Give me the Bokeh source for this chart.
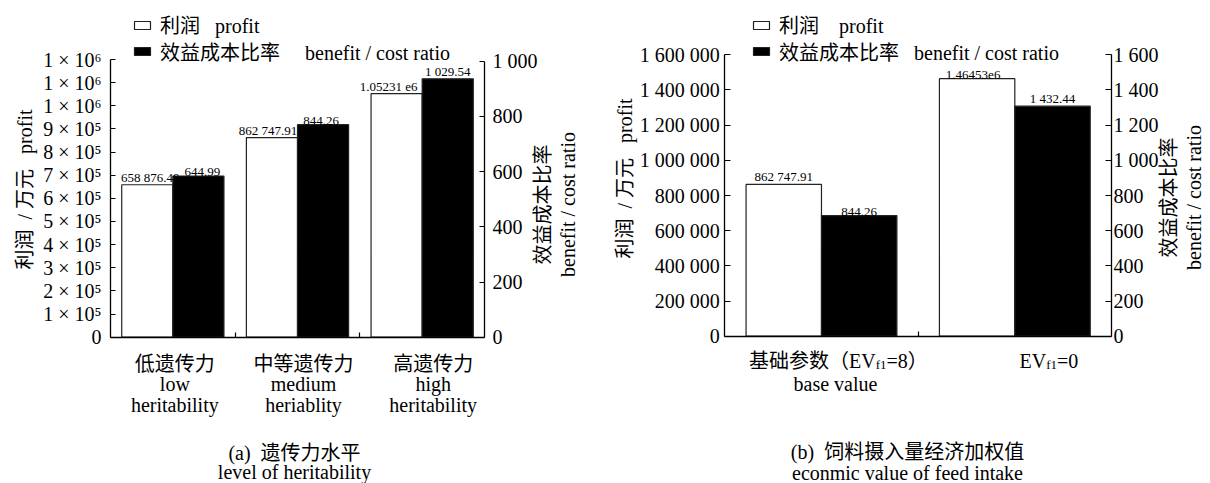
import math
import re
from bokeh.plotting import figure
from bokeh.models import Range1d, LinearAxis, FixedTicker, Label, Legend, LegendItem, ColumnDataSource
from bokeh.layouts import row
from bokeh.core.properties import value
from bokeh.embed import file_html
from bokeh.resources import INLINE

FONT = "Liberation Serif, Noto Sans CJK SC"
LATIN = "Liberation Serif"
H = 483

# ---------------- data: panel (a) ----------------
cats_a = ["低遗传力\nlow\nheritability", "中等遗传力\nmedium\nheriablity", "高遗传力\nhigh\nheritability"]
profit_a = [658876.49, 862747.91, 1052310.0]
profit_a_text = ["658 876.49", "862 747.91", "1.05231 e6"]
ratio_a = [584.0, 770.0, 936.0]          # bar heights as drawn on the ratio axis
ratio_a_text = ["644.99", "844.26", "1 029.54"]
yticks_a = [0, 100000, 200000, 300000, 400000, 500000, 600000, 700000, 800000, 900000, 1000000, 1100000, 1200000]
ylabels_a = ["0", "1 × 10⁵", "2 × 10⁵", "3 × 10⁵", "4 × 10⁵", "5 × 10⁵", "6 × 10⁵", "7 × 10⁵",
             "8 × 10⁵", "9 × 10⁵", "1 × 10⁶", "1 × 10⁶", "1 × 10⁶"]
rticks_a = [0, 200, 400, 600, 800, 1000]
rlabels_a = ["0", "200", "400", "600", "800", "1 000"]
legend_a = ["利润\u00a0\u00a0\u00a0profit", "效益成本比率\u00a0\u00a0\u00a0\u00a0\u00a0benefit / cost ratio"]
caption_a = ["(a)\u00a0\u00a0遗传力水平", "level of heritability"]

# ---------------- data: panel (b) ----------------
cats_b_main = ["基础参数（EV", "EV"]
cats_b_sub = ["f1", "f1"]
cats_b_tail = ["=8）", "=0"]
cats_b_en = ["base value", ""]
profit_b = [862747.91, 1464530.0]
profit_b_text = ["862 747.91", "1.46453e6"]
ratio_b = [686.0, 1308.0]                # bar heights as drawn on the ratio axis
ratio_b_text = ["844.26", "1 432.44"]
yticks_b = [0, 200000, 400000, 600000, 800000, 1000000, 1200000, 1400000, 1600000]
ylabels_b = ["0", "200 000", "400 000", "600 000", "800 000", "1 000 000", "1 200 000", "1 400 000", "1 600 000"]
rticks_b = [0, 200, 400, 600, 800, 1000, 1200, 1400, 1600]
rlabels_b = ["0", "200", "400", "600", "800", "1 000", "1 200", "1 400", "1 600"]
legend_b = ["利润\u00a0\u00a0\u00a0\u00a0profit", "效益成本比率\u00a0\u00a0\u00a0benefit / cost ratio"]
caption_b = ["(b)\u00a0\u00a0饲料摄入量经济加权值", "econmic value of feed intake"]

ytitle = "利润\u00a0\u00a0/\u00a0万元\u00a0\u00a0\u00a0profit"
rtitle = "效益成本比率\nbenefit / cost ratio"

CJK = re.compile(r"[\u3000-\u9fff\uff00-\uffef]")


def span_range(px_zero, px_v, v, extent):
    """Range whose value 0 falls on pixel px_zero and value v on pixel px_v (pixels from left/top)."""
    scale = (px_v - px_zero) / v
    a = (0 - px_zero) / scale
    b = (extent - px_zero) / scale
    return (min(a, b), max(a, b))


def style_axis(ax, standoff, tick_len):
    ax.axis_line_color = "black"
    ax.axis_line_width = 1.3
    ax.major_tick_in = tick_len
    ax.major_tick_out = 0
    ax.major_tick_line_color = "black"
    ax.major_tick_line_width = 1.2
    ax.minor_tick_line_color = None
    ax.major_label_text_font = FONT
    ax.major_label_text_font_size = "20px"
    ax.major_label_text_color = "black"
    ax.major_label_standoff = standoff


def lab(p, text, x, py, xu="screen", size="20px", align="center", base="alphabetic", angle=0.0,
        x_offset=0, lh=1.2):
    font = FONT if CJK.search(text) else LATIN
    p.add_layout(Label(x=x, y=H - py, x_units=xu, y_units="screen", text=text, text_font=font,
                       text_font_size=size, text_align=align, text_baseline=base, angle=angle,
                       x_offset=x_offset, text_color="black", text_line_height=lh))


def add_legend(p, label, renderer, loc):
    leg = Legend(items=[LegendItem(label=label, renderers=[renderer])], location=loc)
    leg.background_fill_alpha = 0
    leg.border_line_color = None
    leg.padding = 0
    leg.margin = 0
    leg.glyph_width = 20
    leg.glyph_height = 10
    leg.label_standoff = 8
    leg.label_text_font = FONT
    leg.label_text_font_size = "20px"
    leg.label_text_color = "black"
    p.add_layout(leg)


def build(W, xpx, ypx, rpx, ncat, ymax, rmax, yticks, ylabels, rticks, rlabels,
          profit, profit_text, ratio, ratio_text, bw, lstand, rstand, tick_len,
          legend_labels, legend_x, dx_p, dx_r):
    xr = span_range(xpx[0], xpx[1], ncat, W)
    yr = span_range(ypx[0], ypx[1], ymax, H)
    rr = span_range(ypx[0], rpx, rmax, H)
    p = figure(width=W, height=H, x_range=Range1d(*xr), y_range=Range1d(*yr), title=None,
               output_backend="svg", toolbar_location=None, min_border=0)
    p.outline_line_color = None
    p.xgrid.visible = False
    p.ygrid.visible = False
    p.background_fill_color = "white"
    p.border_fill_color = "white"
    p.extra_y_ranges = {"ratio": Range1d(*rr)}

    xa = p.xaxis[0]
    xa.fixed_location = 0
    xa.bounds = (0, ncat)
    xa.ticker = FixedTicker(ticks=[], minor_ticks=list(range(1, ncat)))
    xa.axis_line_color = "black"
    xa.axis_line_width = 1.3
    xa.major_tick_line_color = None
    xa.major_label_text_font_size = "0px"
    xa.minor_tick_in = 5
    xa.minor_tick_out = 0
    xa.minor_tick_line_color = "black"
    xa.minor_tick_line_width = 1.2

    ya = p.yaxis[0]
    ya.fixed_location = 0
    ya.bounds = (0, ymax)
    ya.ticker = FixedTicker(ticks=yticks)
    ya.major_label_overrides = {t: s for t, s in zip(yticks, ylabels)}
    style_axis(ya, lstand, tick_len)

    ra = LinearAxis(y_range_name="ratio", ticker=FixedTicker(ticks=rticks), fixed_location=ncat,
                    bounds=(0, rmax), major_label_overrides={t: s for t, s in zip(rticks, rlabels)})
    style_axis(ra, rstand, tick_len)
    p.add_layout(ra, "right")

    xs = [i + 0.5 - bw / 2 for i in range(ncat)]
    xb = [i + 0.5 + bw / 2 for i in range(ncat)]
    src_p = ColumnDataSource(dict(x=xs, top=profit, t=profit_text, dx=dx_p))
    src_r = ColumnDataSource(dict(x=xb, top=ratio, t=ratio_text, dx=dx_r))
    rw = p.vbar(x="x", top="top", bottom=0, width=bw, source=src_p, fill_color="white",
                line_color="#222222", line_width=1.2)
    rb = p.vbar(x="x", top="top", bottom=0, width=bw, source=src_r, fill_color="black",
                line_color="#222222", line_width=1.2, y_range_name="ratio")

    p.text(x="x", y="top", text="t", source=src_p, x_offset="dx", text_font=value(LATIN),
           text_font_size="13px", text_align="center", text_baseline="bottom", text_color="black")
    p.text(x="x", y="top", text="t", source=src_r, x_offset="dx", text_font=value(LATIN),
           text_font_size="13px", text_align="center", text_baseline="bottom", text_color="black",
           y_range_name="ratio")

    # legend rows centred near y = 25 and y = 51.7 px (item box ~28 px tall)
    add_legend(p, legend_labels[0], rw, (legend_x, H - 39))
    add_legend(p, legend_labels[1], rb, (legend_x, H - 65.7))
    return p


# ---------------- panel (a) ----------------
pa = build(600, (110, 484), (336.7, 59), 60.7, 3, 1200000, 1000, yticks_a, ylabels_a, rticks_a, rlabels_a,
           profit_a, profit_a_text, ratio_a, ratio_a_text, 0.41, 9, 8, 5, legend_a, 132,
           [3, -4, -8], [4, -2, 0])

shift_a = [2, 6, 11]
for i, c in enumerate(cats_a):
    for j, line in enumerate(c.split("\n")):
        lab(pa, line, i + 0.5, 363 + 20.5 * j, xu="data", x_offset=shift_a[i])
lab(pa, ytitle, 24, 189, base="middle", angle=math.pi / 2)
lab(pa, rtitle, 555, 204, base="middle", angle=math.pi / 2, lh=1.15)
lab(pa, caption_a[0], 294, 452)
lab(pa, caption_a[1], 294, 471)

# ---------------- panel (b) ----------------
pb = build(610, (124.3, 511), (335.7, 54.3), 54.3, 2, 1600000, 1600, yticks_b, ylabels_b, rticks_b, rlabels_b,
           profit_b, profit_b_text, ratio_b, ratio_b_text, 0.39, 5, 2, 6, legend_b, 151,
           [0, -4], [0, 0])

anchor_b = [17 + 37.3, 34 - 2.7]
for i in range(2):
    lab(pb, cats_b_main[i], i + 0.5, 360, xu="data", align="right", x_offset=anchor_b[i])
    lab(pb, cats_b_sub[i], i + 0.5, 364, xu="data", align="left", size="13px", x_offset=anchor_b[i])
    lab(pb, cats_b_tail[i], i + 0.5, 360, xu="data", align="left", x_offset=anchor_b[i] + 10.8)
    if cats_b_en[i]:
        lab(pb, cats_b_en[i], i + 0.5, 383, xu="data", x_offset=14)
lab(pb, ytitle, 24.5, 178, base="middle", angle=math.pi / 2)
lab(pb, rtitle, 581, 197, base="middle", angle=math.pi / 2, lh=1.15)
lab(pb, caption_b[0], 307, 451)
lab(pb, caption_b[1], 307, 472)

layout = row(pa, pb)
open("out.html", "w").write(file_html(layout, INLINE))
